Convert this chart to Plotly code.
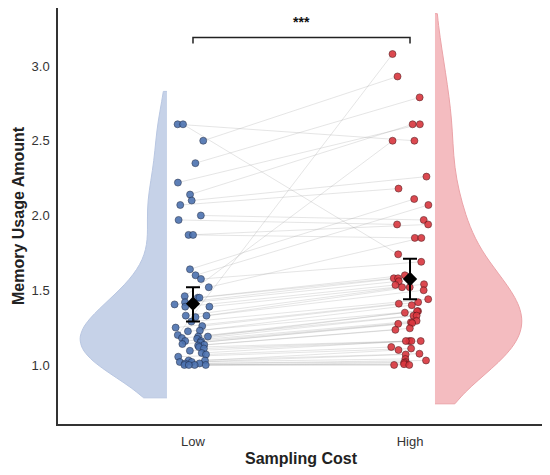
import numpy as np
import plotly.graph_objects as go

# paired values per participant
low = [2.61, 2.61, 2.50, 2.35, 2.22, 2.14, 2.10, 2.07, 2.00, 1.97, 1.87, 1.87,
       1.64, 1.60, 1.575, 1.52, 1.46, 1.45, 1.45, 1.42, 1.405, 1.39, 1.39, 1.33,
       1.33, 1.32, 1.29, 1.26, 1.25, 1.23, 1.225, 1.20, 1.19, 1.19, 1.18, 1.175,
       1.16, 1.16, 1.15, 1.14, 1.135, 1.13, 1.12, 1.11, 1.095, 1.08, 1.07, 1.055,
       1.03, 1.03, 1.02, 1.02, 1.01, 1.01, 1.00, 1.00, 1.00, 1.00]
high = [2.50, 1.74, 2.93, 2.79, 2.61, 2.61, 2.26, 2.18, 1.97, 1.94, 1.94, 1.85,
        2.11, 2.07, 1.69, 1.85, 2.50, 1.60, 1.58, 1.58, 1.56, 1.54, 1.535, 1.52,
        1.52, 1.50, 1.44, 1.42, 1.41, 1.40, 1.36, 3.08, 1.36, 1.35, 1.33, 1.33,
        1.295, 1.285, 1.28, 1.275, 1.245, 1.235, 1.16, 1.16, 1.16, 1.16, 1.12, 1.11,
        1.10, 1.075, 1.07, 1.04, 1.03, 1.02, 1.015, 1.005, 1.00, 1.00]

categories = ["Low", "High"]
means = [1.41, 1.575]
ci_upper = [1.52, 1.71]
ci_lower = [1.29, 1.44]
sig_label = "***"
bracket_y = 3.19

blue, red = "#4c72b0", "#d9363e"
blue_fill, red_fill = "#c6d2e8", "#f4bcc0"

rng = np.random.default_rng(3)
jit_low = rng.uniform(-0.085, 0.08, len(low))
jit_high = rng.uniform(-0.09, 0.09, len(high))
x_low = 0 + jit_low
x_high = 1 + jit_high

fig = go.Figure()

# half violins
fig.add_trace(go.Violin(y=low, x0=-0.12, side="negative", width=0.8,
                        bandwidth=0.2, spanmode="manual", span=[0.78, 2.83],
                        fillcolor=blue_fill, line=dict(color="#b9c7e2", width=1),
                        opacity=1, points=False, hoverinfo="skip", showlegend=False))
fig.add_trace(go.Violin(y=high, x0=1.115, side="positive", width=0.8,
                        bandwidth=0.24, spanmode="manual", span=[0.74, 3.35],
                        fillcolor=red_fill, line=dict(color="#eba3a8", width=1),
                        opacity=1, points=False, hoverinfo="skip", showlegend=False))

# paired lines
lx, ly = [], []
for a, b, ya, yb in zip(x_low, x_high, low, high):
    lx += [a, b, None]
    ly += [ya, yb, None]
fig.add_trace(go.Scatter(x=lx, y=ly, mode="lines",
                         line=dict(color="rgba(160,160,160,0.35)", width=0.8),
                         hoverinfo="skip", showlegend=False))

fig.add_trace(go.Scatter(x=x_low, y=low, mode="markers",
                         marker=dict(size=7, color=blue, opacity=0.9,
                                     line=dict(color="#1f2a44", width=0.6)),
                         showlegend=False))
fig.add_trace(go.Scatter(x=x_high, y=high, mode="markers",
                         marker=dict(size=7, color=red, opacity=0.9,
                                     line=dict(color="#4a1014", width=0.6)),
                         showlegend=False))

# mean +/- CI
fig.add_trace(go.Scatter(
    x=[0, 1], y=means, mode="markers",
    marker=dict(symbol="diamond", size=11, color="black"),
    error_y=dict(type="data", symmetric=False,
                 array=[u - m for u, m in zip(ci_upper, means)],
                 arrayminus=[m - l for m, l in zip(means, ci_lower)],
                 color="black", thickness=2, width=7),
    showlegend=False))

# significance bracket
fig.add_trace(go.Scatter(x=[0, 0, 1, 1], y=[bracket_y - 0.04, bracket_y, bracket_y, bracket_y - 0.04],
                         mode="lines", line=dict(color="#222", width=1.5),
                         hoverinfo="skip", showlegend=False))
fig.add_annotation(x=0.5, y=bracket_y + 0.04, text="<b>" + sig_label + "</b>", showarrow=False,
                   yanchor="bottom", font=dict(size=14, color="#111"))

# axis titles
fig.add_annotation(xref="paper", yref="paper", x=0, y=0.5, xshift=-40, textangle=-90,
                   xanchor="center", yanchor="middle",
                   text="<b>Memory Usage Amount</b>", showarrow=False,
                   font=dict(size=16, color="#222"))
fig.add_annotation(xref="paper", yref="paper", x=0.5, y=0, yshift=-34,
                   xanchor="center", yanchor="middle",
                   text="<b>Sampling Cost</b>", showarrow=False,
                   font=dict(size=16, color="#222"))

# page body has an 8px margin, so the figure is a bit smaller than the window
fig.update_layout(
    width=542, height=467,
    margin=dict(l=50, r=5, t=0, b=51),
    plot_bgcolor="white", paper_bgcolor="white",
    violinmode="overlay",
    font=dict(family="Liberation Sans, Arial, sans-serif", color="#333"),
    xaxis=dict(range=[-0.622, 1.622], tickvals=[0, 1], ticktext=categories, automargin=False,
               showgrid=False, zeroline=False, showline=True, linecolor="#333", linewidth=1.5,
               ticks="", tickfont=dict(size=13, color="#333"), ticklabelstandoff=5),
    yaxis=dict(range=[0.605, 3.388], tickvals=[1.0, 1.5, 2.0, 2.5, 3.0], automargin=False,
               ticktext=["1.0", "1.5", "2.0", "2.5", "3.0"],
               showgrid=False, zeroline=False, showline=True, linecolor="#333", linewidth=1.5,
               ticks="", tickfont=dict(size=13, color="#333"), ticklabelstandoff=4),
)

fig.write_html("out.html")
